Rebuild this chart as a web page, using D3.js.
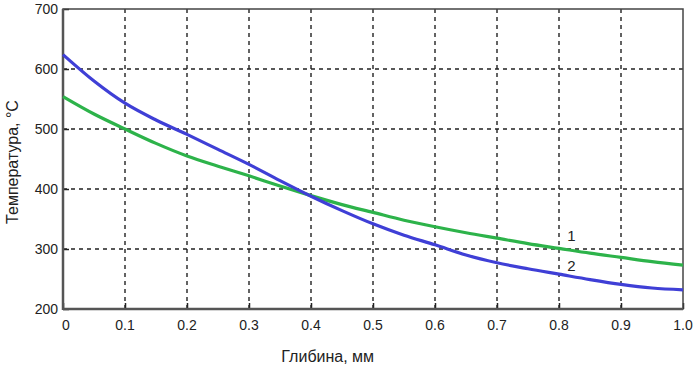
<!DOCTYPE html>
<html><head><meta charset="utf-8">
<script src="https://cdn.jsdelivr.net/npm/d3@7"></script>
<style>body{margin:0;background:#fff}svg{display:block}text{font-family:"Liberation Sans",Arial,sans-serif;fill:#222}</style>
</head><body><div id="c"></div>
<script>
const depth = [0,0.05,0.1,0.15,0.2,0.25,0.3,0.35,0.4,0.45,0.5,0.55,0.6,0.65,0.7,0.75,0.8,0.85,0.9,0.95,1.0];
const series1 = [554,525,500,476,455,438,422,405,389,374,361,348,337,327,318,309,301,293,286,279,273];
const series2 = [624,580,543,515,491,466,441,414,388,364,342,323,307,290,277,267,258,249,241,235,232];
const xTicks = [0,0.1,0.2,0.3,0.4,0.5,0.6,0.7,0.8,0.9,1.0];
const xTickLabels = ["0","0.1","0.2","0.3","0.4","0.5","0.6","0.7","0.8","0.9","1.0"];
const yTicks = [200,300,400,500,600,700];
const seriesLabels = ["1","2"];
const xLabel = "Глибина, мм";
const yLabel = "Температура, °C";

const W=694,H=367, L=63,R=683,T=9,B=309;
const svg=d3.select("#c").append("svg").attr("width",W).attr("height",H);
const x=d3.scaleLinear().domain([0,1]).range([L,R]);
const y=d3.scaleLinear().domain([200,700]).range([B,T]);

// grid
const g=svg.append("g");
g.selectAll("line.vx").data(xTicks.slice(1,-1)).join("line")
 .attr("x1",d=>x(d)).attr("x2",d=>x(d)).attr("y1",T).attr("y2",B)
 .attr("stroke","#222").attr("stroke-width",1.4).attr("stroke-dasharray","4,4");
g.selectAll("line.hy").data(yTicks.slice(1,-1)).join("line")
 .attr("y1",d=>y(d)).attr("y2",d=>y(d)).attr("x1",L).attr("x2",R)
 .attr("stroke","#222").attr("stroke-width",1.4).attr("stroke-dasharray","4,4");

// inner ticks
const xa=d3.axisTop(x).tickValues(xTicks).tickSize(6).tickFormat("");
svg.append("g").attr("transform",`translate(0,${B})`).call(xa)
 .call(s=>{s.select(".domain").remove();s.selectAll("line").attr("stroke","#222").attr("stroke-width",1.5);});
const ya=d3.axisRight(y).tickValues(yTicks).tickSize(6).tickFormat("");
svg.append("g").attr("transform",`translate(${L},0)`).call(ya)
 .call(s=>{s.select(".domain").remove();s.selectAll("line").attr("stroke","#222").attr("stroke-width",1.5);});

// frame
svg.append("rect").attr("x",L).attr("y",T).attr("width",R-L).attr("height",B-T)
 .attr("fill","none").attr("stroke","#444").attr("stroke-width",1.5);
svg.append("line").attr("x1",L).attr("x2",L).attr("y1",T).attr("y2",B+1).attr("stroke","#555").attr("stroke-width",2.5);
svg.append("line").attr("x1",L).attr("x2",R).attr("y1",B).attr("y2",B).attr("stroke","#555").attr("stroke-width",2.5);

// tick labels
svg.selectAll("text.xt").data(xTicks).join("text")
 .attr("x",d=>x(d)).attr("y",B+21).attr("text-anchor",(d,i)=>i===0?"start":"middle")
 .attr("dx",(d,i)=>i===0?-1:0)
 .attr("font-size",14).text((d,i)=>xTickLabels[i]);
svg.selectAll("text.yt").data(yTicks).join("text")
 .attr("x",L-5).attr("y",d=>y(d)).attr("dy","0.35em").attr("text-anchor","end")
 .attr("font-size",14).text(d=>d);

// lines
const line=d3.line().x((d,i)=>x(depth[i])).y(d=>y(d)).curve(d3.curveMonotoneX);
svg.append("path").datum(series1).attr("d",line).attr("fill","none").attr("stroke","#2db34a").attr("stroke-width",3.2);
svg.append("path").datum(series2).attr("d",line).attr("fill","none").attr("stroke","#3f3fd6").attr("stroke-width",3.2);

// series labels
svg.append("text").attr("x",x(0.82)).attr("y",y(series1[16])-7).attr("font-size",15).attr("text-anchor","middle").text(seriesLabels[0]);
svg.append("text").attr("x",x(0.82)).attr("y",y(series2[16])-3).attr("font-size",15).attr("text-anchor","middle").text(seriesLabels[1]);

// axis titles
svg.append("text").attr("x",x(0.427)).attr("y",362).attr("text-anchor","middle").attr("font-size",16).text(xLabel);
svg.append("text").attr("transform",`translate(18,${(T+B)/2+3}) rotate(-90)`).attr("text-anchor","middle").attr("font-size",16).text(yLabel);
</script></body></html>
